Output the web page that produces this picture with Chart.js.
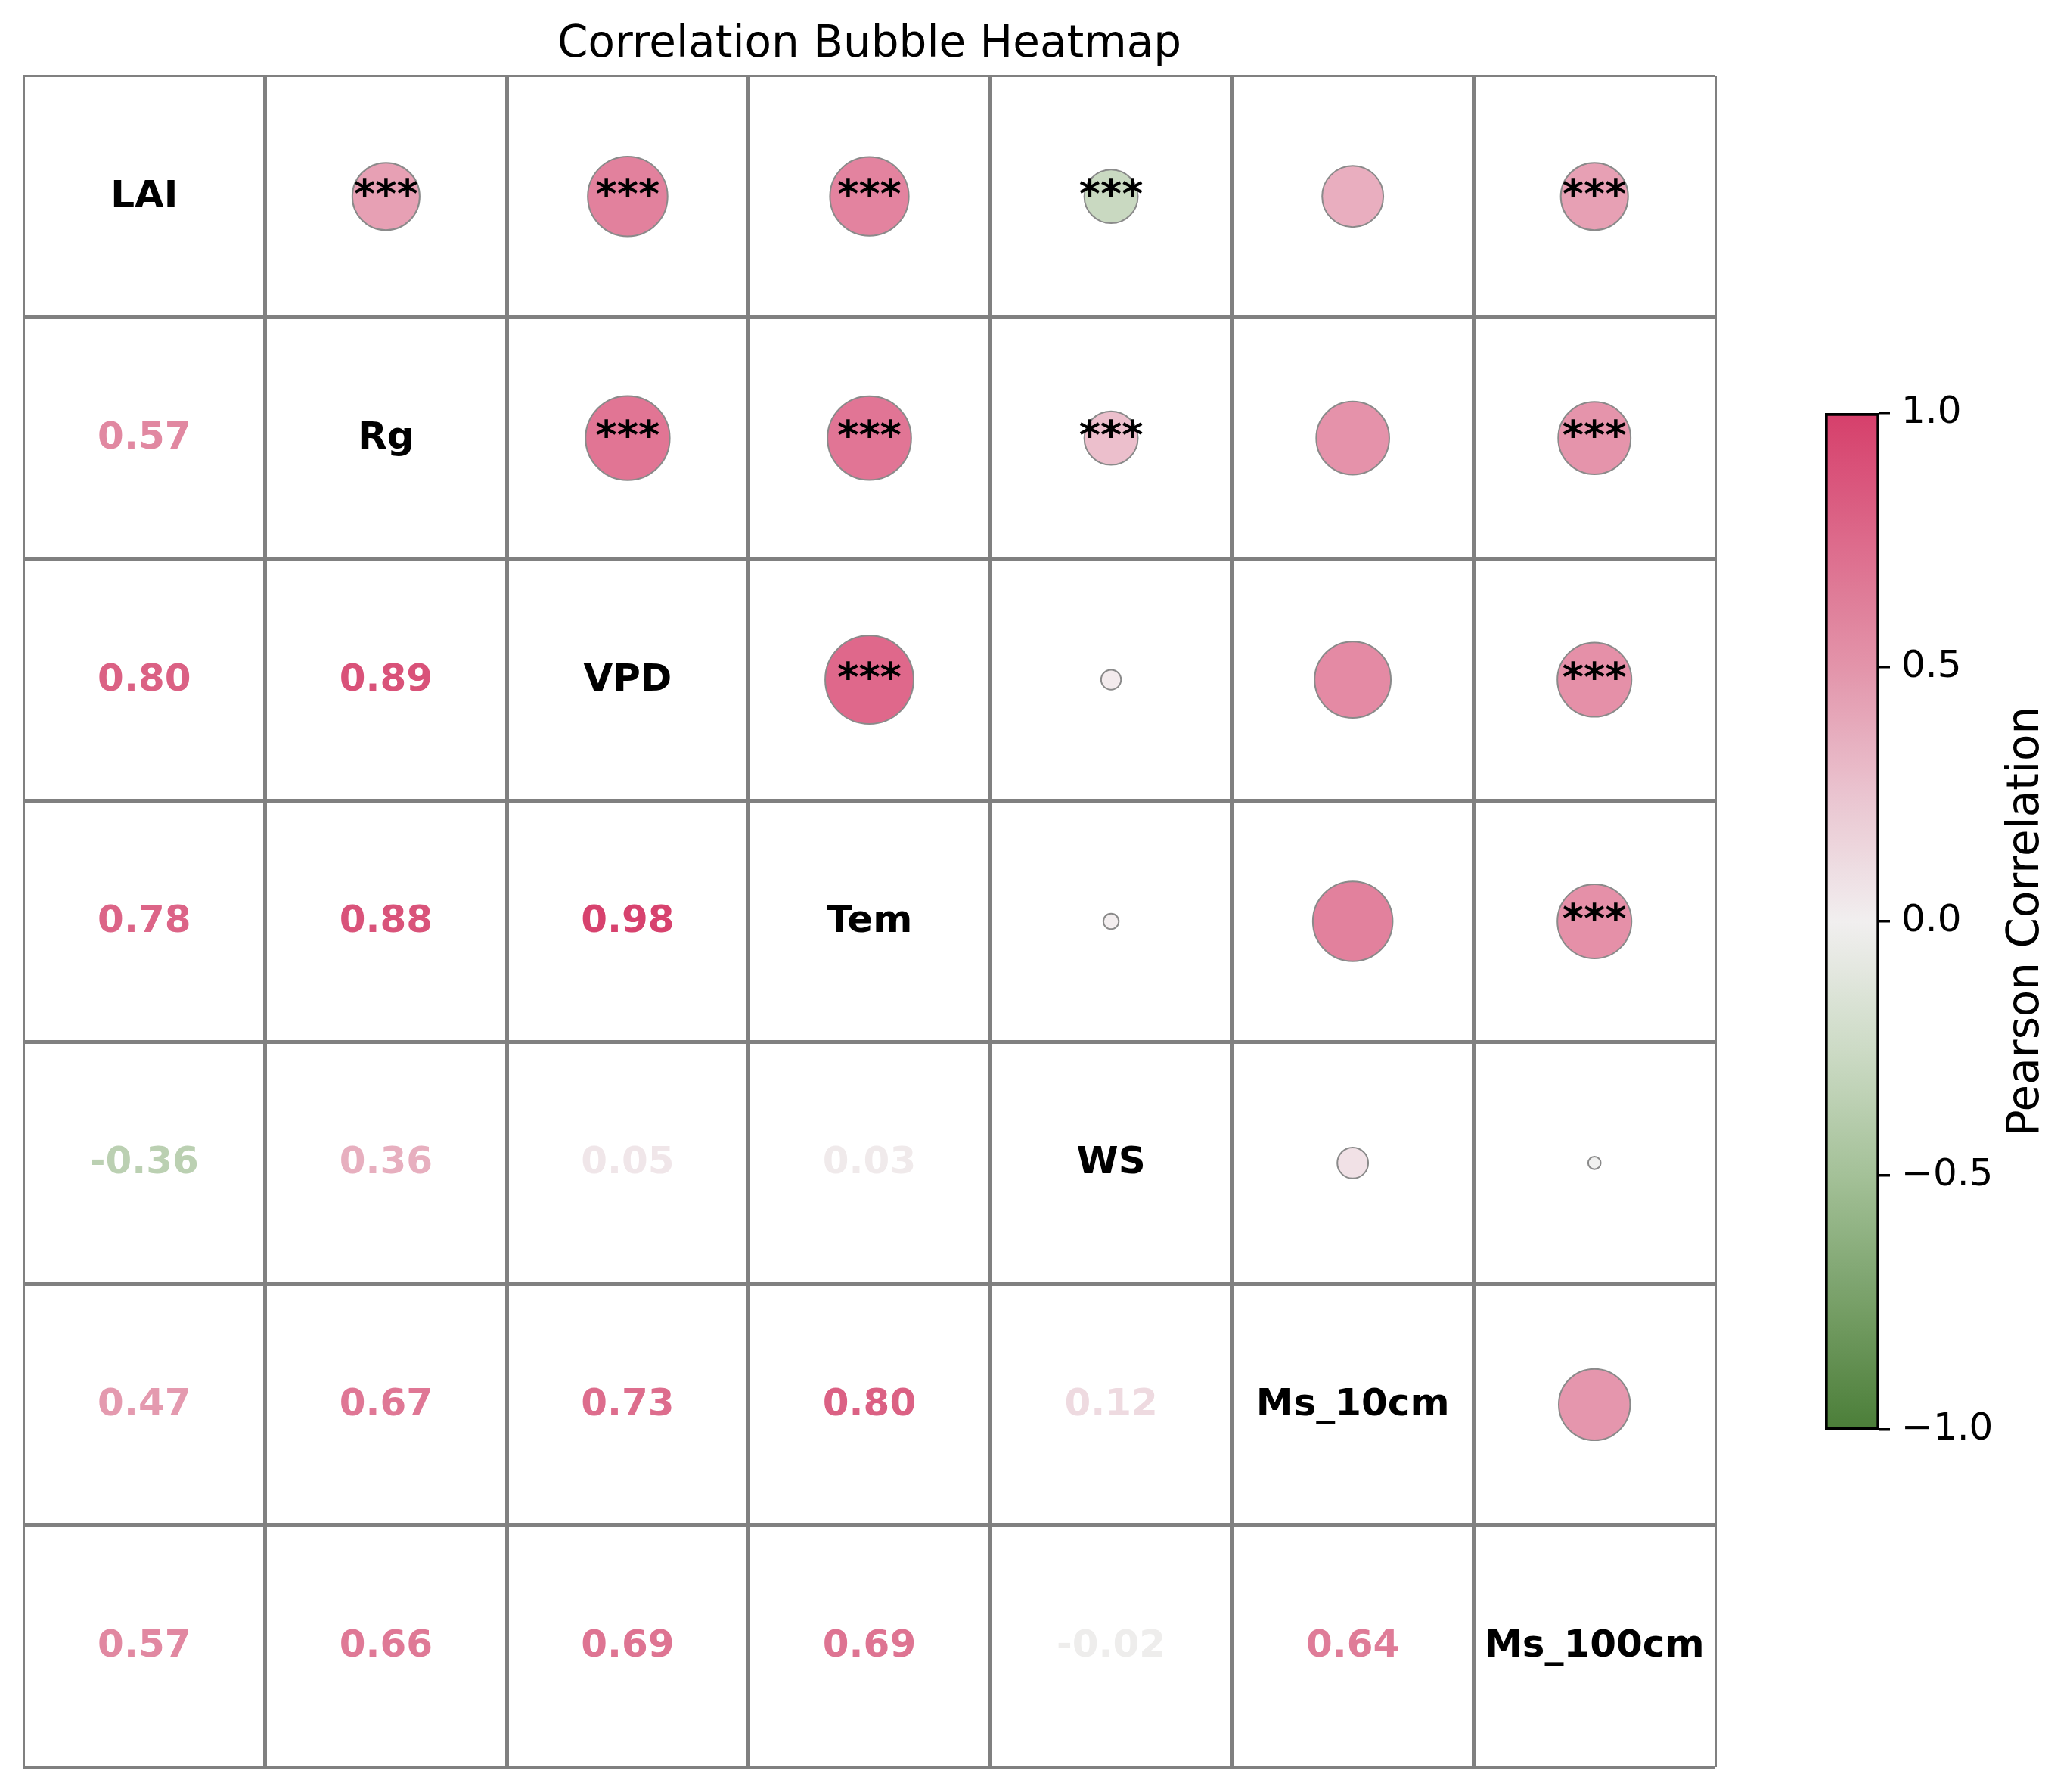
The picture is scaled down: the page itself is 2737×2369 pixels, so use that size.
<!DOCTYPE html>
<html>
<head>
<meta charset="utf-8">
<title>Correlation Bubble Heatmap</title>
<script src="https://cdn.jsdelivr.net/npm/chart.js@4.4.1/dist/chart.umd.min.js"></script>
<style>
html, body { margin:0; padding:0; background:#fff; }
#wrap { position:relative; width:2737px; height:2369px; }
canvas { position:absolute; top:0; }
</style>
</head>
<body>
<div id="wrap">
<canvas id="heat" width="2737" height="2369" style="left:0"></canvas>
<canvas id="cbar" width="357" height="2369" style="left:2380px"></canvas>
</div>
<script>
// variables, in row / column order
var variables = ['LAI', 'Rg', 'VPD', 'Tem', 'WS', 'Ms_10cm', 'Ms_100cm'];

// pearson r, one row per variable
var corrLAI   = [1.00, 0.57, 0.80, 0.78, -0.36, 0.47, 0.57];
var corrRg    = [0.57, 1.00, 0.89, 0.88, 0.36, 0.67, 0.66];
var corrVPD   = [0.80, 0.89, 1.00, 0.98, 0.05, 0.73, 0.69];
var corrTem   = [0.78, 0.88, 0.98, 1.00, 0.03, 0.80, 0.69];
var corrWS    = [-0.36, 0.36, 0.05, 0.03, 1.00, 0.12, -0.02];
var corrMs10  = [0.47, 0.67, 0.73, 0.80, 0.12, 1.00, 0.64];
var corrMs100 = [0.57, 0.66, 0.69, 0.69, -0.02, 0.64, 1.00];

// significance marks (upper triangle)
var sigLAI   = ['', '***', '***', '***', '***', '', '***'];
var sigRg    = ['', '', '***', '***', '***', '', '***'];
var sigVPD   = ['', '', '', '***', '', '', '***'];
var sigTem   = ['', '', '', '', '', '', '***'];
var sigWS    = ['', '', '', '', '', '', ''];
var sigMs10  = ['', '', '', '', '', '', ''];
var sigMs100 = ['', '', '', '', '', '', ''];

// colorbar ticks
var cbarTicks = [-1.0, -0.5, 0.0, 0.5, 1.0];

var corr = [corrLAI, corrRg, corrVPD, corrTem, corrWS, corrMs10, corrMs100];
var sig = [sigLAI, sigRg, sigVPD, sigTem, sigWS, sigMs10, sigMs100];

// green - white - crimson colormap
var cmapStops = [
  [-1.0, [75, 126, 56]],
  [-0.5, [164, 193, 152]],
  [-0.25, [205, 219, 198]],
  [0.0, [241, 239, 239]],
  [0.25, [234, 196, 208]],
  [0.5, [227, 148, 170]],
  [1.0, [214, 63, 107]]
];
function cmap(v, a) {
  v = Math.max(-1, Math.min(1, v));
  for (var k = 0; k < cmapStops.length - 1; k++) {
    var s0 = cmapStops[k], s1 = cmapStops[k + 1];
    if (v <= s1[0]) {
      var t = (v - s0[0]) / (s1[0] - s0[0]);
      var c = s0[1].map(function (x, i) { return Math.round(x + (s1[1][i] - x) * t); });
      return 'rgba(' + c[0] + ',' + c[1] + ',' + c[2] + ',' + (a == null ? 1 : a) + ')';
    }
  }
}

Chart.defaults.font.family = 'DejaVu Sans';
Chart.defaults.color = '#000';

var bubbles = [];
for (var i = 0; i < variables.length; i++) {
  for (var j = i + 1; j < variables.length; j++) {
    bubbles.push({x: j, y: i, r: 59 * Math.sqrt(Math.abs(corr[i][j])), v: corr[i][j]});
  }
}

var cellLines = [-0.5, 0.5, 1.5, 2.5, 3.5, 4.5, 5.5, 6.5];
function gridAxis(rev, horiz) {
  return {
    type: 'linear', min: -0.5, max: 6.5, reverse: rev,
    afterBuildTicks: function (s) { s.ticks = cellLines.map(function (v) { return {value: v}; }); },
    afterFit: function (s) { if (horiz) s.height = 0; else s.width = 0; },
    ticks: {display: false},
    border: {display: false},
    grid: {
      color: '#808080', drawTicks: false,
      lineWidth: function (c) { return (c.index === 0 || c.index === 7) ? 3 : 5; }
    }
  };
}

var cellText = {
  id: 'cellText',
  afterDatasetsDraw: function (chart) {
    var c = chart.ctx, xs = chart.scales.x, ys = chart.scales.y;
    c.save();
    c.textAlign = 'center';
    c.textBaseline = 'alphabetic';
    for (var i = 0; i < variables.length; i++) {
      for (var j = 0; j < variables.length; j++) {
        var px = xs.getPixelForValue(j), py = ys.getPixelForValue(i);
        if (i === j) {
          c.font = 'bold 50px "DejaVu Sans"';
          c.fillStyle = '#000';
          c.fillText(variables[i], px, py + 14);
        } else if (i > j) {
          c.font = 'bold 50px "DejaVu Sans"';
          c.fillStyle = cmap(corr[i][j]);
          c.fillText(corr[i][j].toFixed(2), px, py + 14);
        } else if (sig[i][j]) {
          c.font = 'bold 54px "DejaVu Sans"';
          c.fillStyle = '#000';
          c.fillText(sig[i][j], px, py + 15);
        }
      }
    }
    var a = chart.chartArea;
    c.font = '58px "DejaVu Sans"';
    c.fillStyle = '#000';
    c.fillText('Correlation Bubble Heatmap', (a.left + a.right) / 2, 75);
    c.restore();
  }
};

new Chart(document.getElementById('heat'), {
  type: 'bubble',
  data: {
    datasets: [{
      data: bubbles,
      backgroundColor: function (c) { return c.raw ? cmap(c.raw.v, 0.8) : 'transparent'; },
      borderColor: '#8a8a8a',
      borderWidth: 2
    }]
  },
  options: {
    responsive: false, animation: false, devicePixelRatio: 1, events: [],
    layout: {autoPadding: false, padding: {left: 31, top: 100, right: 469, bottom: 33}},
    plugins: {legend: {display: false}, tooltip: {enabled: false}},
    scales: {x: gridAxis(false, true), y: gridAxis(true, false)}
  },
  plugins: [cellText]
});

var cbarLabel = {
  id: 'cbarLabel',
  afterDraw: function (chart) {
    var c = chart.ctx, ys = chart.scales.y;
    c.save();
    c.translate(315, (ys.top + ys.bottom) / 2);
    c.rotate(-Math.PI / 2);
    c.font = '58px "DejaVu Sans"';
    c.fillStyle = '#000';
    c.textAlign = 'center';
    c.textBaseline = 'alphabetic';
    c.fillText('Pearson Correlation', 0, 0);
    c.restore();
  }
};

new Chart(document.getElementById('cbar'), {
  type: 'bar',
  data: {
    labels: ['r'],
    datasets: [{
      data: [[cbarTicks[0], cbarTicks[cbarTicks.length - 1]]],
      barPercentage: 1, categoryPercentage: 1,
      borderColor: '#000', borderWidth: 4, borderSkipped: false,
      backgroundColor: function (ctx) {
        var ch = ctx.chart, ys = ch.scales.y;
        if (!ch.chartArea || !ys) return '#ccc';
        var g = ch.ctx.createLinearGradient(0, ys.getPixelForValue(-1), 0, ys.getPixelForValue(1));
        for (var k = 0; k <= 40; k++) {
          var v = -1 + k / 20;
          g.addColorStop(k / 40, cmap(v));
        }
        return g;
      }
    }]
  },
  options: {
    responsive: false, animation: false, devicePixelRatio: 1, events: [],
    layout: {autoPadding: false, padding: {left: 33, top: 546, right: 0, bottom: 479}},
    plugins: {legend: {display: false}, tooltip: {enabled: false}},
    scales: {
      x: {display: false},
      y: {
        position: 'right', min: -1, max: 1,
        afterFit: function (s) { s.width = 252; },
        afterBuildTicks: function (s) { s.ticks = cbarTicks.map(function (v) { return {value: v}; }); },
        ticks: {
          font: {size: 50}, padding: 15, color: '#000',
          callback: function (v) { return v.toFixed(1).replace('-', '\u2212'); }
        },
        border: {display: false},
        grid: {drawOnChartArea: false, drawTicks: true, tickLength: 14, color: '#000', lineWidth: 3.5}
      }
    }
  },
  plugins: [cbarLabel]
});
</script>
</body>
</html>
